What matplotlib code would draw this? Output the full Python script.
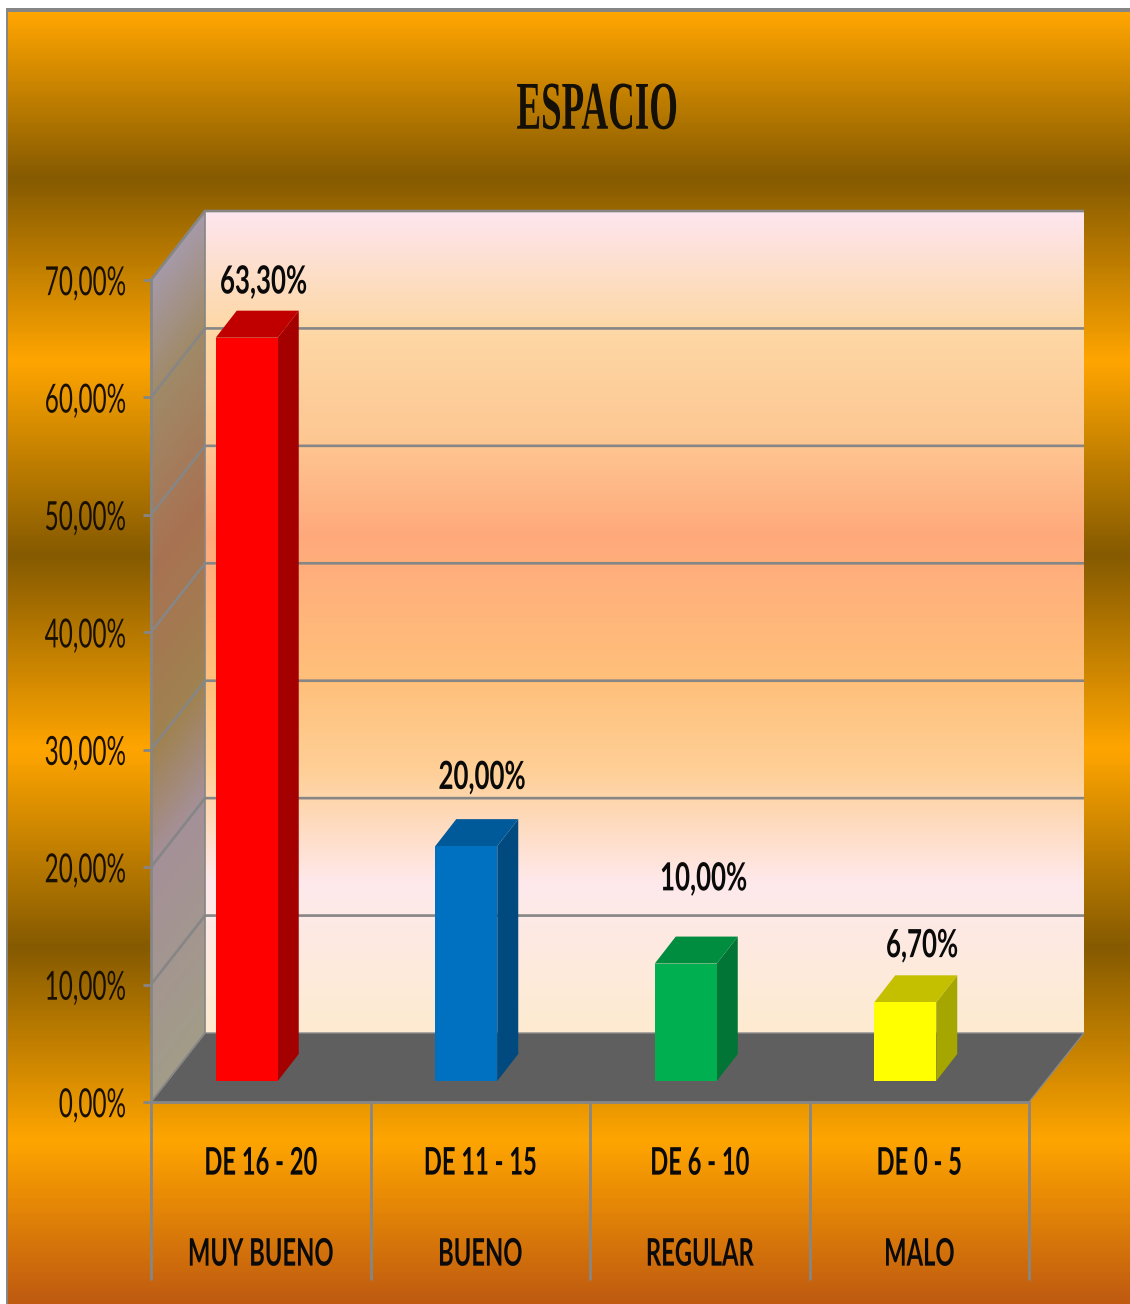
import numpy as np
import matplotlib
matplotlib.use("Agg")
import matplotlib.pyplot as plt
from matplotlib.colors import LinearSegmentedColormap
from matplotlib.patches import Polygon, Rectangle
from matplotlib.patheffects import AbstractPathEffect
from matplotlib.transforms import Affine2D

# ---- data ----
title = "ESPACIO"
ranges = ["DE 16 - 20", "DE 11 - 15", "DE 6 - 10", "DE 0 - 5"]
ratings = ["MUY BUENO", "BUENO", "REGULAR", "MALO"]
values = [63.3, 20.0, 10.0, 6.7]
value_labels = ["63,30%", "20,00%", "10,00%", "6,70%"]
y_ticks = [0, 10, 20, 30, 40, 50, 60, 70]
y_tick_labels = ["0,00%", "10,00%", "20,00%", "30,00%", "40,00%", "50,00%", "60,00%", "70,00%"]

# ---- style ----
front_colors = ["#FF0000", "#0070C0", "#00B050", "#FFFF00"]
side_colors = ["#A50000", "#004A80", "#007535", "#A6A600"]
top_colors = ["#C00000", "#005A9A", "#008D40", "#C4C000"]
label_offsets = [(17, 56), (16, 69), (18, 85), (17, 57)]  # px from bar front top centre
GREY = "#868686"
W, H = 1130, 1304
L, R, Y0, Y70 = 151, 1029, 1102, 280
WALL_DX, WALL_DY = 54, 69
BAR_DX, BAR_DY = -14, 21
DEPTH_X, DEPTH_Y = 21, 27
BAR_W = 62 / 219.5


class Stretch(AbstractPathEffect):
    """Draw the text glyphs taller, as in the condensed face of the original."""
    def __init__(self, sy, dy=0):
        super().__init__()
        self.sy, self.dy = sy, dy

    def draw_path(self, renderer, gc, tpath, affine, rgbFace=None):
        ext = tpath.get_extents()
        cy = (ext.y0 + ext.y1) / 2
        t = Affine2D().translate(0, -cy).scale(1, self.sy).translate(0, cy) + affine + Affine2D().translate(0, self.dy)
        renderer.draw_path(gc, tpath, t, rgbFace)


def cmap_px(stops, y0, y1):
    pos = [(p - y0) / (y1 - y0) for p, _ in stops]
    return LinearSegmentedColormap.from_list("g", list(zip(pos, [c for _, c in stops])), N=512)


fig = plt.figure(figsize=(W / 100, H / 100), dpi=100, facecolor="white")

# ---- backdrop in pixel coordinates ----
bg = fig.add_axes([0, 0, 1, 1])
bg.set_xlim(0, W)
bg.set_ylim(H, 0)
bg.axis("off")
bg.add_patch(Rectangle((6, 8), W, H, fc=GREY, ec="none", zorder=0))

page = [(12, "#FFA500"), (177, "#855A00"), (360, "#FFA500"), (555, "#855A00"),
        (750, "#FFA500"), (948, "#855A00"), (1142, "#FFA500"), (1304, "#BF5A10")]
grad = np.linspace(0, 1, 1292)[:, None]
bg.imshow(grad, cmap=cmap_px(page, 12, 1304), extent=(8, W, 1304, 12), aspect="auto", zorder=1, vmin=0, vmax=1)

wall = [(210, "#FEE6F0"), (326, "#FDD8A6"), (440, "#FEC792"), (535, "#FFA97C"), (680, "#FFC07A"),
        (770, "#FECF96"), (885, "#FEE9EC"), (1033, "#FDEBD0")]
grad = np.linspace(0, 1, 823)[:, None]
bg.imshow(grad, cmap=cmap_px(wall, 210, 1033), extent=(205, 1084, 1033, 210), aspect="auto", zorder=2, vmin=0, vmax=1)

# left wall: gradient sheared along the depth direction
side = [(280, "#A69AA8"), (397, "#A08A68"), (570, "#A87252"), (750, "#A08250"), (867, "#A59098"), (1102, "#A29C88")]
cm = cmap_px(side, 280, 1102)
xx, yy = np.meshgrid(np.arange(L, L + WALL_DX + 1), np.arange(205, 1104))
frac = (yy + (xx - L) * WALL_DY / WALL_DX - 280) / (1102 - 280)
im = bg.imshow(cm(np.clip(frac, 0, 1)), extent=(L, L + WALL_DX, 1103, 205), aspect="auto", zorder=2)
clip = Polygon([(L, Y70), (L + WALL_DX, Y70 - WALL_DY), (L + WALL_DX, Y0 - WALL_DY), (L, Y0)], transform=bg.transData)
im.set_clip_path(clip)
bg.set_xlim(0, W)
bg.set_ylim(H, 0)

bg.add_patch(Polygon([(L, Y0), (L + WALL_DX, Y0 - WALL_DY), (R + WALL_DX + 1, Y0 - WALL_DY), (R, Y0)],
                     fc="#5F5F5F", ec="#8A8A8A", lw=1, zorder=3))

# ---- chart on real scales ----
ax = fig.add_axes([L / W, 1 - Y0 / H, (R - L) / W, (Y0 - Y70) / H])
ax.set_xlim(0, 4)
ax.set_ylim(0, 70)
ax.patch.set_alpha(0)
for s in ("top", "right"):
    ax.spines[s].set_visible(False)
for s in ("left", "bottom"):
    ax.spines[s].set_color(GREY)
    ax.spines[s].set_linewidth(2)


def px(x, y, dx=0, dy=0):
    p = ax.transData.transform((x, y))
    return (p[0] + dx, p[1] + dy)


# gridlines on the walls
for v in y_ticks[1:]:
    a = px(0, v)
    b = px(0, v, WALL_DX, WALL_DY)
    c = px(4, v, WALL_DX + 1, WALL_DY)
    ax.plot([a[0], b[0], c[0]], [a[1], b[1], c[1]], transform=None, color=GREY, lw=1.9, zorder=1, clip_on=False,
            solid_joinstyle="miter", solid_capstyle="butt")
b0 = px(0, 0, WALL_DX, WALL_DY)
b7 = px(0, 70, WALL_DX, WALL_DY)
ax.plot([b0[0], b7[0]], [b0[1], b7[1]], transform=None, color=GREY, lw=1.2, zorder=1, clip_on=False)
a0 = px(0, 0)
ax.plot([a0[0], b0[0]], [a0[1], b0[1]], transform=None, color=GREY, lw=1.2, zorder=1, clip_on=False)

# bars
shift = Affine2D().translate(BAR_DX, BAR_DY)
centers = np.arange(len(values)) + 0.5
ax.bar(centers, values, width=BAR_W, color=front_colors, transform=ax.transData + shift, zorder=4, clip_on=False)
for xc, v, sc, tc, lab, (ox, oy) in zip(centers, values, side_colors, top_colors, value_labels, label_offsets):
    xl, xr = xc - BAR_W / 2, xc + BAR_W / 2
    p00 = px(xr, 0, BAR_DX, BAR_DY)
    p01 = px(xr, v, BAR_DX, BAR_DY)
    ax.add_patch(Polygon([p00, (p00[0] + DEPTH_X, p00[1] + DEPTH_Y), (p01[0] + DEPTH_X, p01[1] + DEPTH_Y), p01],
                         transform=None, fc=sc, ec="none", zorder=3, clip_on=False))
    q = px(xl, v, BAR_DX, BAR_DY)
    ax.add_patch(Polygon([q, (q[0] + DEPTH_X, q[1] + DEPTH_Y), (p01[0] + DEPTH_X, p01[1] + DEPTH_Y), p01],
                         transform=None, fc=tc, ec="none", zorder=3, clip_on=False))
    ax.annotate(lab, xy=(xc, v), xytext=((BAR_DX + ox) * 0.72, (BAR_DY + oy) * 0.72), textcoords="offset points",
                ha="center", va="center", family="Lato", weight="bold", fontsize=18.6, color="#0A0A0A",
                path_effects=[Stretch(1.5)], zorder=6)

# axes ticks
ax.set_yticks(y_ticks)
ax.set_yticklabels(y_tick_labels, family="Lato", fontsize=17.5, color="#1A1000",
                   path_effects=[Stretch(1.65, dy=-2)])
ax.tick_params(axis="y", length=6, width=2, color=GREY, pad=12)
ax.set_xticks(np.arange(len(values) + 1))
ax.set_xticklabels([])
ax.tick_params(axis="x", length=178 * 0.72, width=2, color=GREY)

for xc, r, q in zip(centers, ranges, ratings):
    ax.annotate(r, xy=(xc, 0), xytext=(0, -60 * 0.72), textcoords="offset points", ha="center", va="center",
                family="Lato", weight="bold", fontsize=17.1, color="#0A0A0A", path_effects=[Stretch(1.6)])
    ax.annotate(q, xy=(xc, 0), xytext=(0, -151 * 0.72), textcoords="offset points", ha="center", va="center",
                family="Lato", weight="bold", fontsize=17.1, color="#0A0A0A", path_effects=[Stretch(1.6)])

fig.text(597 / W, 1 - 109 / H, title, ha="center", va="center", family="Liberation Serif", weight="bold",
         fontsize=26.6, color="#141008", path_effects=[Stretch(1.85)])

fig.savefig("out.png", dpi=100)
